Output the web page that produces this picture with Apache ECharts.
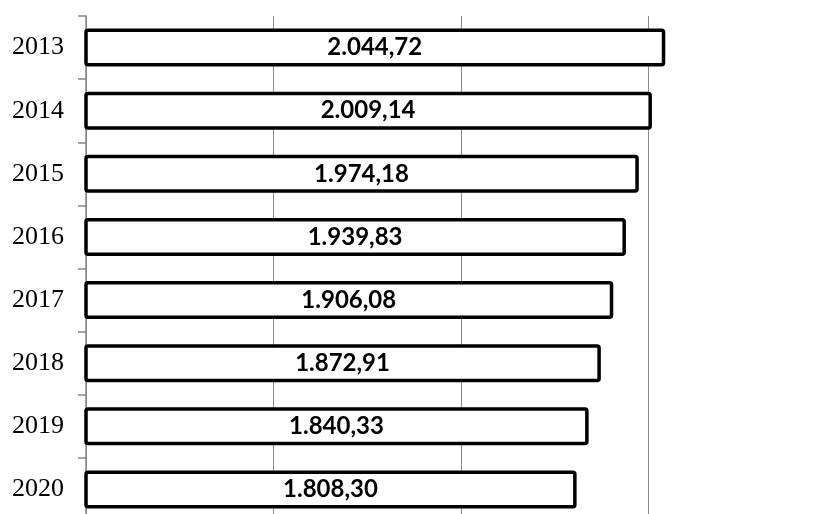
<!DOCTYPE html>
<html>
<head>
<meta charset="utf-8">
<script src="https://cdn.jsdelivr.net/npm/echarts@6/dist/echarts.min.js"></script>
<style>
  html, body { margin: 0; padding: 0; background: #fff; overflow: hidden; }
  /* the chart runs off the right and bottom edge of the picture */
  #chart { width: 860px; height: 540px; }
</style>
</head>
<body>
<div id="chart"></div>
<script>
const years = ['2013', '2014', '2015', '2016', '2017', '2018', '2019', '2020'];
const values = [2044.72, 2009.14, 1974.18, 1939.83, 1906.08, 1872.91, 1840.33, 1808.30];

// formato pt-BR: 2.044,72
function fmt(v) {
    return v.toLocaleString('pt-BR', { minimumFractionDigits: 2, maximumFractionDigits: 2 });
}

const chart = echarts.init(document.getElementById('chart'));

const option = {
    animation: false,
    grid: {
        left: 86,
        top: 16,
        width: 750,
        height: 505
    },
    xAxis: {
        type: 'value',
        min: 500,
        max: 2500,
        interval: 500,
        axisLabel: { show: false },
        axisLine: { show: false },
        axisTick: { show: false },
        splitLine: { lineStyle: { color: '#8c8c8c', width: 1 } }
    },
    yAxis: {
        type: 'category',
        inverse: true,
        data: years,
        axisLine: { show: true, lineStyle: { color: '#868686', width: 1.5 } },
        axisTick: { show: true, length: 8, lineStyle: { color: '#868686', width: 1.5 } },
        axisLabel: {
            margin: 22,
            color: '#000',
            fontFamily: 'Liberation Serif',
            fontSize: 26
        }
    },
    series: [
        {
            type: 'bar',
            data: values,
            barWidth: 38,
            itemStyle: {
                color: '#fff',
                borderColor: '#000',
                borderWidth: 3.5,
                borderRadius: 2
            },
            label: {
                show: true,
                position: 'inside',
                color: '#000',
                fontFamily: 'Lato',
                fontWeight: 'bold',
                fontSize: 24,
                formatter: p => fmt(p.value)
            }
        }
    ]
};
chart.setOption(option);
</script>
</body>
</html>
